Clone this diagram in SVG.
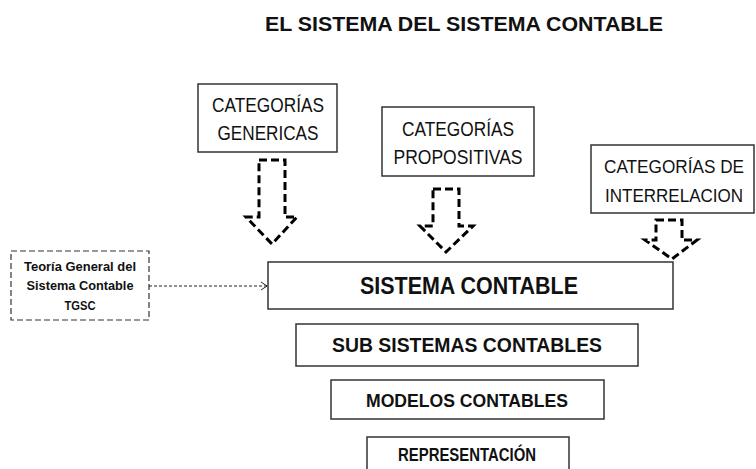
<svg xmlns="http://www.w3.org/2000/svg" width="756" height="469" viewBox="0 0 756 469">
<style>
.box{fill:#fff;stroke:#333;stroke-width:1.5}
.t{font-family:"Liberation Sans",Arial,sans-serif;fill:#111;text-anchor:middle}
.b{font-weight:bold}
.arr{fill:none;stroke:#000;stroke-width:3;stroke-dasharray:8 4}
</style>
<defs>
<marker id="open" markerWidth="10" markerHeight="10" refX="8" refY="5" orient="auto" markerUnits="userSpaceOnUse">
<path d="M2,1 L8,5 L2,9" fill="none" stroke="#222" stroke-width="1"/>
</marker>
</defs>
<rect width="756" height="469" fill="#fff"/>
<text class="t b" x="464" y="31" font-size="21" textLength="398" lengthAdjust="spacingAndGlyphs">EL SISTEMA DEL SISTEMA CONTABLE</text>

<g id="cat-genericas">
<rect class="box" x="198" y="84" width="139" height="68"/>
<text class="t" x="268" y="112" font-size="20" textLength="112" lengthAdjust="spacingAndGlyphs">CATEGORÍAS</text>
<text class="t" x="268" y="140" font-size="20" textLength="101" lengthAdjust="spacingAndGlyphs">GENERICAS</text>
</g>
<g id="cat-propositivas">
<rect class="box" x="382" y="107" width="152" height="69"/>
<text class="t" x="458" y="136" font-size="20" textLength="112" lengthAdjust="spacingAndGlyphs">CATEGORÍAS</text>
<text class="t" x="458" y="164" font-size="20" textLength="129" lengthAdjust="spacingAndGlyphs">PROPOSITIVAS</text>
</g>
<g id="cat-interrelacion">
<rect class="box" x="591" y="145" width="163" height="68"/>
<text class="t" x="674" y="173" font-size="18.5" textLength="140" lengthAdjust="spacingAndGlyphs">CATEGORÍAS DE</text>
<text class="t" x="674" y="202" font-size="18.5" textLength="138" lengthAdjust="spacingAndGlyphs">INTERRELACION</text>
</g>
<g id="tgsc">
<rect x="11" y="251" width="138" height="69" fill="#fff" stroke="#333" stroke-width="1.2" stroke-dasharray="6 3"/>
<text class="t b" x="80" y="271" font-size="12.5" textLength="112" lengthAdjust="spacingAndGlyphs">Teoría General del</text>
<text class="t b" x="80" y="290" font-size="12.5" textLength="107" lengthAdjust="spacingAndGlyphs">Sistema Contable</text>
<text class="t b" x="80" y="310" font-size="12.5" textLength="31" lengthAdjust="spacingAndGlyphs">TGSC</text>
</g>
<g id="sistema-contable">
<rect class="box" x="268" y="262" width="405" height="47"/>
<text class="t b" x="469" y="294" font-size="23" textLength="218" lengthAdjust="spacingAndGlyphs">SISTEMA CONTABLE</text>
</g>
<g id="subsistemas">
<rect class="box" x="296" y="324" width="342" height="42"/>
<text class="t b" x="467" y="352" font-size="21" textLength="270" lengthAdjust="spacingAndGlyphs">SUB SISTEMAS CONTABLES</text>
</g>
<g id="modelos">
<rect class="box" x="331" y="380" width="273" height="39"/>
<text class="t b" x="467" y="407" font-size="19" textLength="202" lengthAdjust="spacingAndGlyphs">MODELOS CONTABLES</text>
</g>
<g id="representacion">
<rect class="box" x="367" y="437" width="202" height="40"/>
<text class="t b" x="467" y="461" font-size="17.5" textLength="138" lengthAdjust="spacingAndGlyphs">REPRESENTACIÓN</text>
</g>

<g id="connectors">
<path class="arr" d="M259,160 L285,160 L285,217 L297,217 L272,244 L246,217 L259,217 Z"/>
<path class="arr" d="M433,189 L459,189 L459,226 L473,226 L446,252 L420,226 L433,226 Z"/>
<path class="arr" d="M656,220 L682,220 L682,240 L697,240 L672,259 L645,240 L656,240 Z"/>
<line x1="149" y1="286" x2="267" y2="286" stroke="#222" stroke-width="1" stroke-dasharray="3 2" marker-end="url(#open)"/>
</g>
</svg>
